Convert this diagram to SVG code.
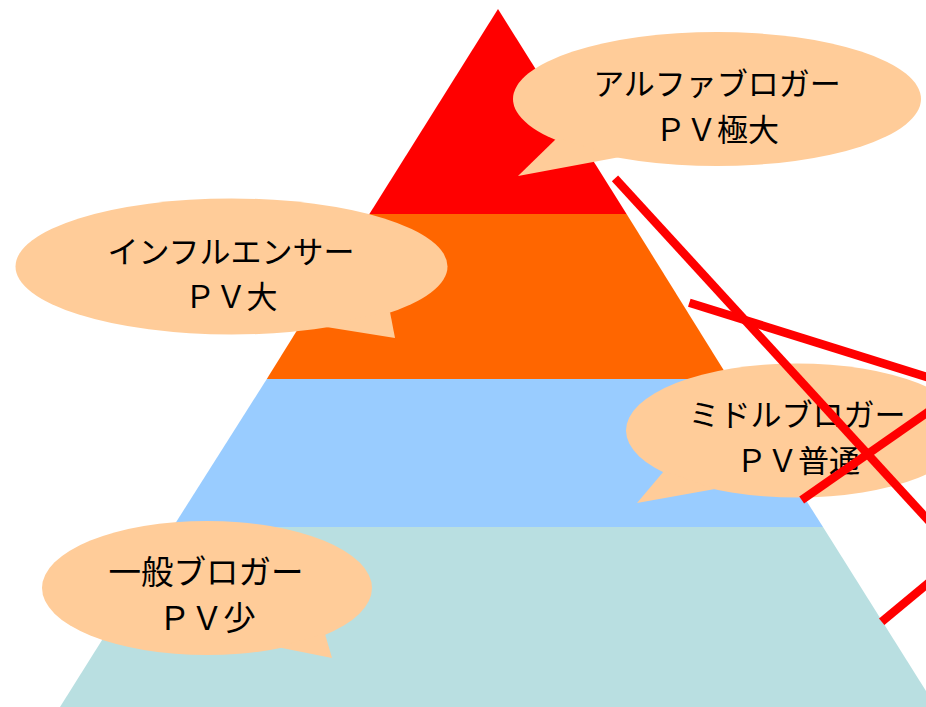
<svg xmlns="http://www.w3.org/2000/svg" width="926" height="707" viewBox="0 0 926 707">
<style>
.bub{fill:#FFCC99;stroke:none}
.lbl{font-family:"Noto Sans CJK JP","Noto Sans",sans-serif;font-size:31px;fill:#000;text-anchor:middle}
.big{font-size:32.5px}
.cross{stroke:#FF0000;stroke-width:8.5;stroke-linecap:butt;fill:none}
</style>
<rect width="926" height="707" fill="#FFFFFF"/>
<g id="layer-alpha"><polygon points="498,9 369.4,214 626.6,214" fill="#FF0000"/></g>
<g id="layer-influencer"><polygon points="369.4,214 626.6,214 729.2,379 266.8,379" fill="#FF6600"/></g>
<g id="layer-middle"><polygon points="266.8,379 729.2,379 823,527 173,527" fill="#99CCFF"/></g>
<g id="layer-general"><polygon points="173,527 823,527 936,707 60,707" fill="#B9DFE1"/></g>
<g id="bubble-alpha">
<ellipse class="bub" cx="717" cy="99" rx="204" ry="67"/>
<polygon class="bub" points="557,138 518,176 620,157"/>
<text class="lbl" x="717" y="95">アルファブロガー</text>
<text class="lbl" x="717" y="141">ＰＶ極大</text>
</g>
<g id="bubble-influencer">
<ellipse class="bub" cx="231.5" cy="266.5" rx="216" ry="68"/>
<polygon class="bub" points="320,326 395,338 390,312"/>
<text class="lbl" x="231" y="263">インフルエンサー</text>
<text class="lbl" x="231" y="308">ＰＶ大</text>
</g>
<g id="bubble-middle">
<ellipse class="bub" cx="797" cy="430.5" rx="171" ry="67"/>
<polygon class="bub" points="664,471 637,503 715,489"/>
<text class="lbl" x="797" y="426">ミドルブロガー</text>
<text class="lbl" x="798" y="472">ＰＶ普通</text>
</g>
<g id="bubble-general">
<ellipse class="bub" cx="207" cy="588" rx="165" ry="67"/>
<polygon class="bub" points="277,647 332,658 325,634"/>
<text class="lbl big" x="206" y="584">一般ブロガー</text>
<text class="lbl big" x="207" y="630">ＰＶ少</text>
</g>
<g id="connectors">
<line class="cross" x1="615" y1="178.3" x2="950" y2="544"/>
<line class="cross" x1="689.3" y1="302.7" x2="950" y2="384.2"/>
<line class="cross" x1="801.7" y1="500" x2="950" y2="396.6"/>
<line class="cross" x1="881.7" y1="621.7" x2="950" y2="565"/>
</g>
</svg>
